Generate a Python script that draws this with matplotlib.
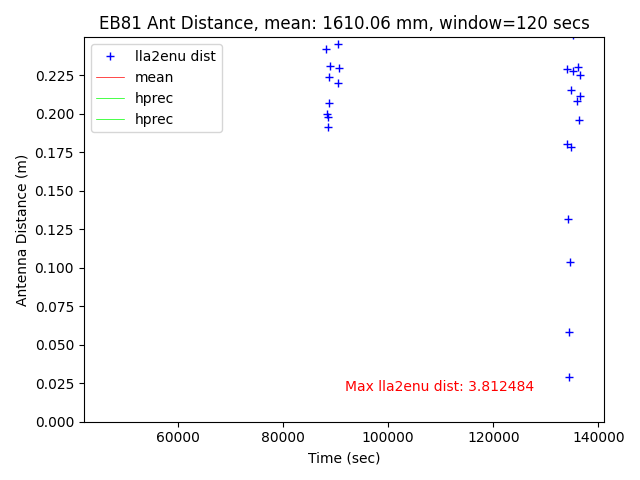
import numpy as np
import matplotlib
matplotlib.use("Agg")
import matplotlib.pyplot as plt
from matplotlib.ticker import MultipleLocator, FormatStrFormatter

# lla2enu distance samples (time in sec, distance in m)
t_dist = np.array([46600, 88124, 90524, 88933, 90714, 88762, 90477, 88819, 88438, 88629, 88629,
                   135105, 134038, 135105, 136057, 136438, 134867, 136438, 136000, 136248,
                   134095, 134724, 134229, 134667, 134476, 134476, 136640])
dist = np.array([3.812484, 0.2418, 0.2450, 0.2307, 0.2298, 0.2235, 0.2200, 0.2070, 0.1997, 0.1975, 0.1910,
                 0.2513, 0.2289, 0.2278, 0.2301, 0.2252, 0.2155, 0.2116, 0.2079, 0.1960,
                 0.1802, 0.1780, 0.1318, 0.1039, 0.0583, 0.0291, 1.62])

# window span for the mean / hprec lines
t_span = np.array([46600, 136640])
mean_m = 1.61006
hprec_lo = np.array([1.55, 1.55])
hprec_hi = np.array([1.67, 1.67])

fig, ax = plt.subplots(figsize=(6.4, 4.8), dpi=100)
ax.plot(t_dist, dist, 'b+', label='lla2enu dist')
ax.plot(t_span, [mean_m, mean_m], color='red', linewidth=0.5, label='mean')
ax.plot(t_span, hprec_lo, color='lime', linewidth=0.5, label='hprec')
ax.plot(t_span, hprec_hi, color='lime', linewidth=0.5, label='hprec')

ax.set_ylim(0, 0.2495)
ax.yaxis.set_major_locator(MultipleLocator(0.025))
ax.yaxis.set_major_formatter(FormatStrFormatter('%.3f'))
ax.text(91700, 0.02, 'Max lla2enu dist: %f' % dist.max(), color='red')
ax.set_title('EB81 Ant Distance, mean: %.2f mm, window=120 secs' % (mean_m * 1000))
ax.set_xlabel('Time (sec)')
ax.set_ylabel('Antenna Distance (m)')
ax.legend(loc='upper left')
plt.tight_layout()
plt.savefig('out.png')
